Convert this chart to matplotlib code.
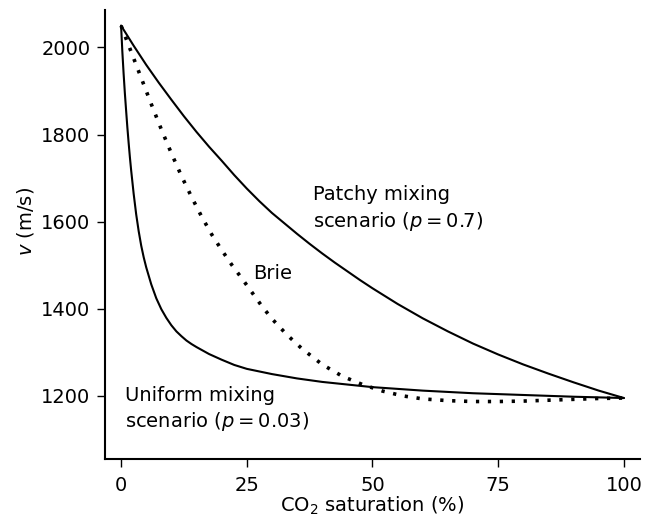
import matplotlib
matplotlib.use('Agg')
from matplotlib import pyplot as plt

plt.rcParams['font.family'] = ['DejaVu Sans']
plt.rcParams['mathtext.fontset'] = 'dejavusans'

# uniform mixing (p = 0.03)
uni_x = [0, 0.25, 0.5, 0.75, 1, 1.25, 1.5, 1.75, 2, 2.5, 3, 3.5, 4, 4.5, 5, 6, 7, 8, 9, 10,
         11, 12, 13, 14, 15, 17.5, 20, 22.5, 25, 30, 35, 40, 45, 50, 60, 70, 80, 90, 100]
uni_v = [2050, 1990, 1940, 1895, 1855, 1816, 1781, 1748, 1718, 1664, 1617, 1578, 1545, 1518,
         1495, 1456, 1424, 1399, 1379, 1362, 1348, 1337, 1327, 1319, 1312, 1296, 1283, 1271,
         1262, 1250, 1240, 1232, 1226, 1220, 1212, 1206, 1202, 1198, 1195]

# patchy mixing (p = 0.7)
pat_x = [0, 2.5, 5, 7.5, 10, 12.5, 15, 17.5, 20, 22.5, 25, 27.5, 30, 32.5, 35, 37.5, 40,
         42.5, 45, 47.5, 50, 55, 60, 65, 70, 75, 80, 85, 90, 95, 100]
pat_v = [2050, 2004, 1960, 1919, 1880, 1842, 1806, 1772, 1740, 1707, 1676, 1647, 1620, 1596,
         1572, 1549, 1527, 1506, 1486, 1466, 1447, 1411, 1378, 1348, 1320, 1295, 1272, 1251,
         1231, 1212, 1195]

# Brie
brie_x = [0, 2, 4, 6, 8, 10, 12, 14, 16, 18, 20, 22, 24, 26, 28, 30, 33, 36, 40, 44, 48,
          52, 56, 60, 65, 70, 75, 80, 85, 90, 95, 100]
brie_v = [2050, 1990, 1930, 1870, 1812, 1757, 1705, 1657, 1612, 1571, 1535, 1501, 1470, 1438,
          1406, 1377, 1340, 1308, 1272, 1245, 1226, 1211, 1200, 1193, 1189, 1187, 1187, 1188,
          1190, 1192, 1194, 1195]

x_ticks = [0, 25, 50, 75, 100]
y_ticks = [1200, 1400, 1600, 1800, 2000]

fig = plt.figure(figsize=(6.58, 5.23), dpi=100)
ax = fig.add_axes([105 / 658, 1 - 459 / 523, 535 / 658, 449 / 523])

ax.plot(uni_x, uni_v, color='black', lw=1.5, solid_capstyle='round')
ax.plot(pat_x, pat_v, color='black', lw=1.5, solid_capstyle='round')
ax.plot(brie_x, brie_v, color='black', lw=2.6, linestyle=(0, (0.9, 2.4)),
        dash_capstyle='butt')

ax.set_xlim(-3.2, 103.2)
ax.set_ylim(1055, 2086)
ax.set_xticks(x_ticks)
ax.set_yticks(y_ticks)

for side in ['top', 'right']:
    ax.spines[side].set_visible(False)
for side in ['left', 'bottom']:
    ax.spines[side].set_linewidth(1.5)

ax.tick_params(axis='both', direction='out', length=5.5, width=1.0, labelsize=14)
ax.tick_params(axis='x', pad=7)
ax.tick_params(axis='y', pad=5)

ax.text(38.2, 1629, 'Patchy mixing\nscenario ($p = 0.7$)', fontsize=14,
        ha='left', va='center', linespacing=1.3)
ax.text(26.2, 1482, 'Brie', fontsize=14, ha='left', va='center')
ax.text(0.8, 1169, 'Uniform mixing\nscenario ($p = 0.03$)', fontsize=14,
        ha='left', va='center', linespacing=1.3)

ax.set_xlabel('CO$_2$ saturation (%)', fontsize=14)
ax.set_ylabel('$v$ (m/s)', fontsize=14)
ax.xaxis.set_label_coords(0.5, -0.08)
ax.yaxis.set_label_coords(-0.129, 0.53)

fig.savefig('out.png', dpi=100)
